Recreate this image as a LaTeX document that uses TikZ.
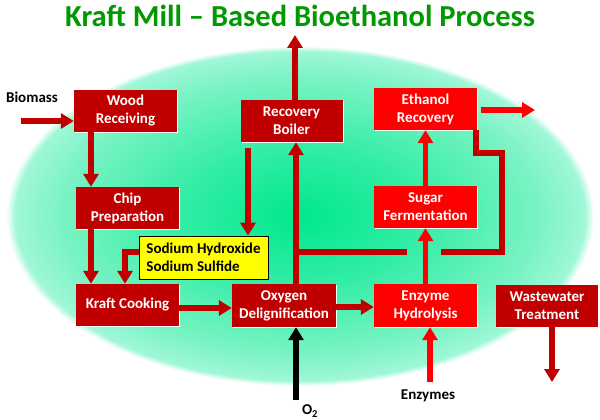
\documentclass[tikz,border=0pt]{standalone}
\usepackage{fontspec}
\setmainfont{Carlito}
\usetikzlibrary{arrows.meta,shadows,calc}
\definecolor{dred}{RGB}{192,0,0}
\definecolor{bred}{RGB}{255,0,0}
\definecolor{ttl}{RGB}{0,153,0}
\definecolor{sodyel}{RGB}{255,255,0}
\definecolor{g0}{RGB}{0,232,140}
\definecolor{g1}{RGB}{50,237,165}
\definecolor{g2}{RGB}{120,243,195}
\definecolor{g3}{RGB}{160,247,215}
\pgfdeclareradialshading{glow}{\pgfpoint{0bp}{0bp}}{color(0bp)=(g0); color(10bp)=(g1); color(20bp)=(g2); color(24.2bp)=(g3); color(25bp)=(white); color(50bp)=(white)}
\begin{document}
\begin{tikzpicture}[x=1pt,y=-1pt,
  box/.style={minimum width=103pt, minimum height=42pt, inner sep=1pt, align=center, text=white,
    font=\fontsize{15}{18}\selectfont\bfseries,
    general shadow={fill=white, shadow xshift=1.3pt, shadow yshift=-1.3pt}},
  dbox/.style={box, fill=dred},
  bbox/.style={box, fill=bred},
  arr/.style={line width=5.5pt, -{Triangle[width=15pt,length=13pt]}},
  darr/.style={arr, draw=dred},
  barr/.style={arr, draw=bred},
  karr/.style={arr, draw=black},
  pipe/.style={line width=5.5pt, draw=dred, line join=miter},
  lbl/.style={font=\fontsize{15}{18}\selectfont\bfseries, text=black, inner sep=0pt}]
\useasboundingbox (0,0) rectangle (600,420);
\fill[white] (0,0) rectangle (600,420);
\shade[shading=glow] (300,216) ellipse [x radius=294, y radius=170];

\node[font=\fontsize{30.5}{36}\selectfont\bfseries, text=ttl] (title) at (300,16) {Kraft Mill – Based Bioethanol Process};

\node[dbox] (wood) at (125.5,111) {Wood\\Receiving};
\node[dbox] (chip) at (127.5,208) {Chip\\Preparation};
\node[dbox] (kraft) at (127.5,305) {Kraft Cooking};
\node[dbox, minimum width=104pt, minimum height=43pt] (oxy) at (284,305.5) {Oxygen\\Delignification};
\node[dbox, minimum width=102pt] (boiler) at (291.5,121) {Recovery\\Boiler};
\node[bbox] (ethanol) at (425.5,109) {Ethanol\\Recovery};
\node[bbox] (sugar) at (425.5,207) {Sugar\\Fermentation};
\node[bbox, minimum height=43pt] (enzyme) at (425.5,305.5) {Enzyme\\Hydrolysis};
\node[dbox, minimum width=102pt] (waste) at (547,306) {Wastewater\\Treatment};
\node[draw=black, line width=0.8pt, fill=sodyel, minimum width=129pt, minimum height=43pt, align=left,
  font=\fontsize{15}{18}\selectfont\bfseries, inner sep=1pt] (sodium) at (203.5,257.5) {Sodium Hydroxide\\Sodium Sulfide};

\node[lbl] (biomass) at (32,97) {Biomass};
\node[lbl] (enzymes) at (428,396) {Enzymes};
\node[lbl] (o2) at (310,411) {O\textsubscript{2}};

\coordinate (bm) at (21,121);
\coordinate (stack) at (295,35);
\coordinate (ethout) at (535,110);
\coordinate (o2start) at (296,400);
\coordinate (enzstart) at (430,382);
\coordinate (wasteend) at (552,382);

% kraft side
\draw[darr] (bm) -- (bm -| wood.west);
\draw[darr] ([xshift=-34.5pt]wood.south) -- ([xshift=-36.5pt]chip.north);
\draw[darr] ([xshift=-36.5pt]chip.south) -- ([xshift=-36.5pt]kraft.north);
\draw[darr] ([yshift=5.5pt]sodium.west) -| ([xshift=-2.5pt]kraft.north);
\draw[darr] ([yshift=-3pt]kraft.east) -- ([yshift=-3pt]kraft.east -| oxy.west);
\draw[darr] ([xshift=-43.5pt,yshift=-6pt]boiler.south) -- ([xshift=-43.5pt]boiler.south |- sodium.north);
\draw[darr] ([xshift=3.5pt]boiler.north) -- (stack);
\draw[darr] ([xshift=12pt]oxy.north) -- ([xshift=12pt]oxy.north |- boiler.south);
\draw[karr] (o2start) -- (o2start |- oxy.south);

% bio side
\draw[darr] ([yshift=-1.5pt]oxy.east) -- ([yshift=-1.5pt]oxy.east -| enzyme.west);
\draw[barr] (enzyme.north) -- (sugar.south);
\draw[barr] (sugar.north) -- (ethanol.south);
\draw[barr] ([xshift=4pt,yshift=-1pt]ethanol.east) -- (ethout);
\draw[barr] (enzstart) -- (enzstart |- enzyme.south);
\draw[darr] ([xshift=5pt]waste.south) -- (wasteend);

% return line from ethanol recovery to recovery boiler line
\coordinate (r1) at ([xshift=-1pt]ethanol.south east);
\draw[pipe] (r1) -- ++(0,23) -| (502,252) -- (441,252);
\draw[pipe] (407,252) -- (293.25,252);
\end{tikzpicture}
\end{document}
